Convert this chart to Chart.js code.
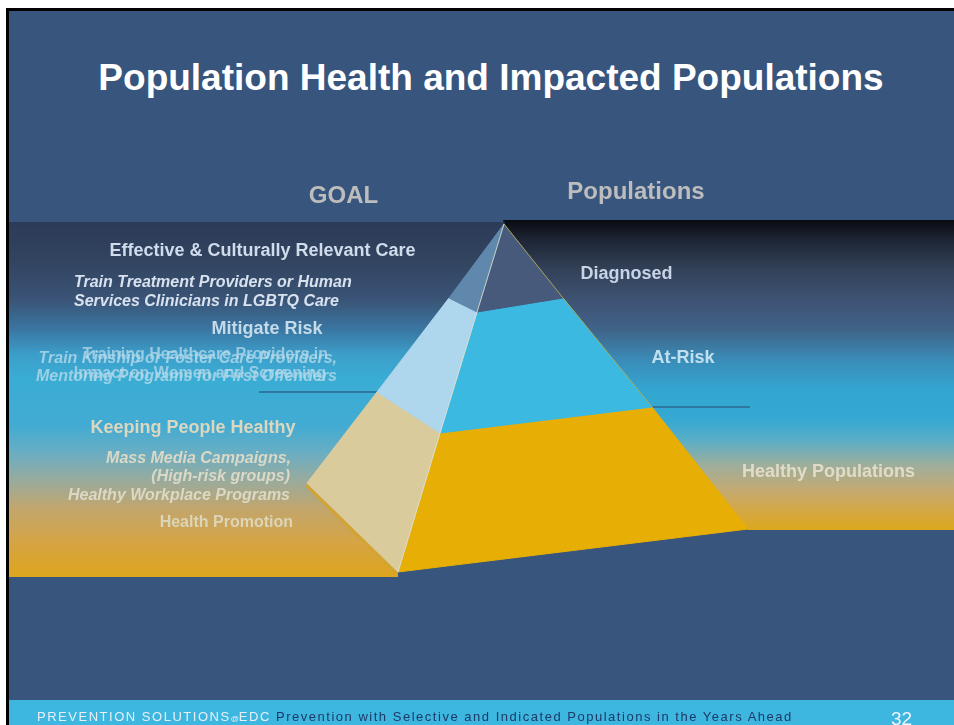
<!DOCTYPE html>
<html>
<head>
<meta charset="utf-8">
<title>Population Health and Impacted Populations</title>
<script src="https://cdn.jsdelivr.net/npm/chart.js@4.4.0/dist/chart.umd.min.js"></script>
<style>
  html, body { margin: 0; padding: 0; background: #fff; }
  body { width: 954px; height: 725px; overflow: hidden; position: relative; font-family: "Liberation Sans", Arial, sans-serif; }
  #frame { position: absolute; left: 6px; top: 8px; right: 0; bottom: 0; border-left: 3px solid #000; border-top: 3px solid #000; background: #38557d; }
  #footer { position: absolute; left: 9px; right: 0; top: 700px; height: 25px; background: #3db6e0; }
  #title { position: absolute; left: 0; width: 982px; top: 59px; line-height: 37px; text-align: center; color: #fff; font-weight: bold; font-size: 37px; white-space: nowrap; }
  #foot-text { position: absolute; left: 37px; top: 710px; line-height: 13px; font-size: 13px; letter-spacing: 1.52px; white-space: nowrap; }
  #foot-text .org { color: #e8f0f6; }
  #foot-text .at { font-size: 8px; letter-spacing: 0; }
  #foot-text .sub { color: #1d3a66; }
  #page-no { position: absolute; left: 891px; top: 709px; line-height: 19px; font-size: 19px; color: #f2f6fa; }
  canvas { position: absolute; left: 0; top: 0; }
</style>
</head>
<body>
<div id="frame"></div>
<div id="footer"></div>
<div id="title">Population Health and Impacted Populations</div>
<canvas id="chart" width="954" height="725"></canvas>
<div id="foot-text"><span class="org">PREVENTION SOLUTIONS<span class="at">@</span>EDC</span> <span class="sub">Prevention with Selective and Indicated Populations in the Years Ahead</span></div>
<div id="page-no">32</div>
<script>
// slide content
const columnHeadings = ['GOAL', 'Populations'];
const tiers = ['Diagnosed', 'At-Risk', 'Healthy Populations'];
const goals = ['Effective & Culturally Relevant Care', 'Mitigate Risk', 'Keeping People Healthy'];
const treatmentPrograms = ['Train Treatment Providers or Human', 'Services Clinicians in LGBTQ Care'];
const riskProgramsA = ['Train Kinship or Foster Care Providers,', 'Mentoring Programs for First Offenders'];
const riskProgramsB = ['Training Healthcare Providers in', 'Impact on Women and Screening'];
const healthPrograms = ['Mass Media Campaigns,', '(High-risk groups)', 'Healthy Workplace Programs'];
const promotionLabel = 'Health Promotion';

// pyramid outline in diagram units (the x/y scales span the slide, y grows downward)
// index 0 = apex, 1..2 = tier boundaries, 3 = base corner
const leftEdgeX = [504, 449, 377, 307];
const leftEdgeY = [224, 298, 392, 483];
const ridgeX = [504, 477, 440, 398];
const ridgeY = [224, 312, 433, 572];
const rightEdgeX = [504, 563, 652, 748];
const rightEdgeY = [224, 298, 407, 529];

// colour bands behind the goals (left) and populations (right)
const leftBandX = [9, 505, 398, 398, 9];
const leftBandY = [222, 222, 572, 577, 577];
const rightBandX = [503, 954, 954, 748, 504];
const rightBandY = [220, 220, 530, 530, 224];

// tier guide lines
const guideX = [[259, 377], [652, 750]];
const guideY = [[392, 392], [407, 407]];

// styles
const sideColors = ['#6088ad', '#aed6ec', '#dacb9d'];
const frontColors = ['#475a7b', '#3cb9e1', '#e7af05'];
const leftBandStops = [
    [222, '#2c3b58'], [262, '#32445f'], [300, '#3a5477'], [330, '#3a77a3'],
    [355, '#3c9fca'], [380, '#3aadd5'], [425, '#42abd3'], [452, '#68aec4'],
    [480, '#98ab9e'], [508, '#c2a66e'], [540, '#d4a447'], [577, '#dea51c']
];
const rightBandStops = [
    [220, '#090b10'], [240, '#1e2535'], [270, '#334259'], [300, '#3e5273'],
    [330, '#3f6488'], [360, '#3a8cb8'], [390, '#33a6d0'], [420, '#36a9d2'],
    [440, '#5aaec8'], [465, '#9eae9c'], [490, '#c4aa72'], [512, '#d5a742'], [530, '#dca81c']
];

const pts = (xs, ys) => xs.map((x, i) => ({ x: x, y: ys[i] }));

const bandGradient = (stops) => (context) => {
    const chart = context.chart;
    const yScale = chart.scales.y;
    if (!chart.chartArea || !yScale) return stops[0][1];
    const y0 = stops[0][0];
    const y1 = stops[stops.length - 1][0];
    const g = chart.ctx.createLinearGradient(0, yScale.getPixelForValue(y0), 0, yScale.getPixelForValue(y1));
    stops.forEach(([y, c]) => g.addColorStop((y - y0) / (y1 - y0), c));
    return g;
};

const polygon = (data, color, order) => ({
    data: data,
    showLine: true,
    fill: 'shape',
    backgroundColor: color,
    borderColor: typeof color === 'string' ? color : 'rgba(0,0,0,0)',
    borderWidth: typeof color === 'string' ? 1 : 0,
    pointRadius: 0,
    pointHoverRadius: 0,
    tension: 0,
    order: order
});

const line = (data, color, width, order) => ({
    data: data,
    showLine: true,
    fill: false,
    borderColor: color,
    borderWidth: width,
    pointRadius: 0,
    pointHoverRadius: 0,
    tension: 0,
    order: order
});

const datasets = [];
datasets.push(polygon(pts(leftBandX, leftBandY), bandGradient(leftBandStops), 20));
datasets.push(polygon(pts(rightBandX, rightBandY), bandGradient(rightBandStops), 20));
guideX.forEach((gx, i) => datasets.push(line(pts(gx, guideY[i]), '#2a6890', 1.5, 15)));

// shadow along the lower-left edge of the side face
datasets.push(line(pts([leftEdgeX[3] - 1, ridgeX[3] - 1], [leftEdgeY[3] + 2, ridgeY[3] + 2]), '#d3a431', 3, 12));

tiers.forEach((t, i) => {
    const side = [
        { x: leftEdgeX[i], y: leftEdgeY[i] }, { x: leftEdgeX[i + 1], y: leftEdgeY[i + 1] },
        { x: ridgeX[i + 1], y: ridgeY[i + 1] }, { x: ridgeX[i], y: ridgeY[i] },
        { x: leftEdgeX[i], y: leftEdgeY[i] }
    ];
    const front = [
        { x: ridgeX[i], y: ridgeY[i] }, { x: ridgeX[i + 1], y: ridgeY[i + 1] },
        { x: rightEdgeX[i + 1], y: rightEdgeY[i + 1] }, { x: rightEdgeX[i], y: rightEdgeY[i] },
        { x: ridgeX[i], y: ridgeY[i] }
    ];
    datasets.push(polygon(side, sideColors[i], 10));
    datasets.push(polygon(front, frontColors[i], 10));
});

// pale ridge and olive right edge highlights
datasets.push(line(pts(ridgeX, ridgeY), 'rgba(220,226,205,0.8)', 1, 2));
datasets.push(line(pts(rightEdgeX.slice(0, 3), rightEdgeY.slice(0, 3)), 'rgba(175,168,80,0.9)', 1, 2));

// text placement
const B = (s) => 'bold ' + s + 'px "Liberation Sans", Arial, sans-serif';
const BI = (s) => 'italic bold ' + s + 'px "Liberation Sans", Arial, sans-serif';
const labels = [
    { text: columnHeadings[0], x: 343.5, y: 203, font: B(24), color: '#bdbdbd', align: 'center' },
    { text: columnHeadings[1], x: 636, y: 199, font: B(24), color: '#bdbdbd', align: 'center' },
    { text: goals[0], x: 262.5, y: 255.5, font: B(18), color: '#d0dcec', align: 'center' },
    { text: treatmentPrograms[0], x: 74, y: 286.5, font: BI(16), color: '#d8e2ef', align: 'left' },
    { text: treatmentPrograms[1], x: 74, y: 306, font: BI(16), color: '#d8e2ef', align: 'left' },
    { text: goals[1], x: 267, y: 334, font: B(18), color: '#c4dbea', align: 'center' },
    { text: riskProgramsB[0], x: 328, y: 359, font: B(16), color: 'rgba(175,214,232,0.8)', align: 'right' },
    { text: riskProgramsB[1], x: 326, y: 377.5, font: B(16), color: 'rgba(175,214,232,0.8)', align: 'right' },
    { text: riskProgramsA[0], x: 337, y: 362.5, font: BI(16), color: 'rgba(180,218,234,0.8)', align: 'right' },
    { text: riskProgramsA[1], x: 337, y: 380.5, font: BI(16), color: 'rgba(180,218,234,0.8)', align: 'right' },
    { text: goals[2], x: 193, y: 432.5, font: B(18), color: '#dcd7bf', align: 'center' },
    { text: healthPrograms[0], x: 291, y: 462.5, font: BI(16), color: '#dcd8c6', align: 'right' },
    { text: healthPrograms[1], x: 290, y: 481, font: BI(16), color: '#dcd8c6', align: 'right' },
    { text: healthPrograms[2], x: 290, y: 500, font: BI(16), color: '#dcd8c6', align: 'right' },
    { text: promotionLabel, x: 293, y: 526.5, font: B(16), color: '#dcd5b8', align: 'right' },
    { text: tiers[0], x: 580.5, y: 279, font: B(18), color: '#c9d3e6', align: 'left' },
    { text: tiers[1], x: 651.5, y: 362.5, font: B(18), color: '#c0e0f0', align: 'left' },
    { text: tiers[2], x: 742, y: 477, font: B(18), color: '#e0dcc8', align: 'left' }
];

const labelPlugin = {
    id: 'slideLabels',
    afterDatasetsDraw(chart) {
        const { ctx, scales: { x, y } } = chart;
        ctx.save();
        ctx.textBaseline = 'alphabetic';
        labels.forEach(l => {
            ctx.font = l.font;
            ctx.fillStyle = l.color;
            ctx.textAlign = l.align;
            ctx.fillText(l.text, x.getPixelForValue(l.x), y.getPixelForValue(l.y));
        });
        ctx.restore();
    }
};

const ctx = document.getElementById('chart').getContext('2d');
const chart = new Chart(ctx, {
    type: 'scatter',
    data: { datasets: datasets },
    options: {
        responsive: false,
        animation: false,
        events: [],
        layout: { padding: 0 },
        scales: {
            x: { type: 'linear', min: 0, max: 954, display: false },
            y: { type: 'linear', min: 0, max: 725, reverse: true, display: false }
        },
        plugins: {
            legend: { display: false },
            tooltip: { enabled: false },
            title: { display: false }
        }
    },
    plugins: [labelPlugin]
});
</script>
</body>
</html>
